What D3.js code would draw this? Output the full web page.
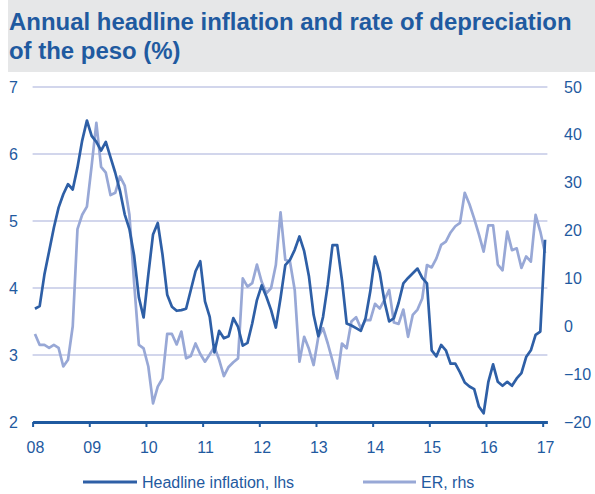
<!DOCTYPE html>
<html><head><meta charset="utf-8">
<script src="https://cdn.jsdelivr.net/npm/d3@7/dist/d3.min.js"></script>
<style>
body{margin:0;background:#fff}
svg{display:block;font-family:"Liberation Sans",Arial,Helvetica,sans-serif}
</style>
</head><body>
<svg id="chart" width="595" height="494"></svg>
<script>
// ---- data (monthly, Jan 2008 .. Jan 2017) ----
const yearLabels = ["08","09","10","11","12","13","14","15","16","17"];
const titleLines = ["Annual headline inflation and rate of depreciation", "of the peso (%)"];
const seriesNames = ["Headline inflation, lhs", "ER, rhs"];
const leftTicks = [2,3,4,5,6,7];
const rightTicks = [-20,-10,0,10,20,30,40,50];

const inflation = [
  3.69,3.73,4.20,4.55,4.90,5.20,5.40,5.55,5.47,5.80,6.20,6.50,
  6.27,6.18,6.05,6.18,5.95,5.72,5.45,5.10,4.88,4.48,3.86,3.56,
  4.20,4.80,4.97,4.50,3.90,3.72,3.66,3.67,3.69,3.97,4.25,4.40,
  3.80,3.57,3.04,3.36,3.25,3.28,3.55,3.42,3.14,3.18,3.47,3.82,
  4.04,3.87,3.67,3.41,3.85,4.34,4.42,4.57,4.77,4.55,4.18,3.60,
  3.28,3.57,4.05,4.64,4.64,4.12,3.47,3.44,3.40,3.36,3.55,3.95,
  4.47,4.23,3.80,3.50,3.55,3.78,4.07,4.15,4.22,4.29,4.15,4.07,
  3.07,2.98,3.15,3.07,2.87,2.87,2.74,2.59,2.53,2.49,2.23,2.13,
  2.60,2.86,2.60,2.54,2.60,2.54,2.65,2.73,2.97,3.07,3.30,3.35,
  4.72
];
const er = [
  -1.6,-3.9,-3.9,-4.5,-3.9,-4.5,-8.4,-7.0,0.0,20.3,23.3,25.0,
  33.5,42.5,33.3,32.1,27.4,27.9,31.3,29.4,23.3,9.0,-3.9,-4.6,
  -8.4,-16.1,-12.6,-10.9,-1.6,-1.6,-3.8,-1.1,-6.7,-6.2,-3.6,-5.8,
  -7.4,-5.9,-4.3,-7.0,-10.4,-8.5,-7.5,-6.7,10.0,8.3,9.0,12.9,
  9.3,6.9,8.0,12.8,23.8,13.9,13.5,7.6,-7.4,-2.2,-4.7,-8.1,
  -2.2,-0.4,-3.6,-7.2,-10.9,-3.6,-4.6,1.0,1.9,-0.4,1.3,1.3,
  4.7,3.7,5.5,7.6,0.8,0.5,3.5,-2.2,2.4,3.5,5.8,12.8,
  12.3,14.2,17.0,17.7,19.6,20.9,21.6,27.9,25.5,22.5,19.2,15.6,
  21.1,21.1,12.9,11.7,19.8,15.9,16.3,12.2,14.6,13.5,23.3,19.8,
  15.3
];

// ---- styles ----
const C_TEXT = "#1f5aa0", C_DARK = "#2e5fa6", C_LIGHT = "#98a8d6", C_GRID = "#c3c9e6";

const svg = d3.select("#chart");

// title band
svg.append("rect").attr("x",8).attr("y",0).attr("width",587).attr("height",72).attr("fill","#e6e7e8");
const t1 = svg.append("text").attr("x",9).attr("y",30).attr("fill",C_TEXT)
  .attr("font-weight","bold").attr("font-size",21).text(titleLines[0]);
const w = t1.node().getComputedTextLength();
const fs = 21 * 563 / w;
t1.attr("font-size", fs);
svg.append("text").attr("x",9).attr("y",59).attr("fill",C_TEXT)
  .attr("font-weight","bold").attr("font-size",fs).text(titleLines[1]);

// scales
const n = inflation.length;
const x = d3.scaleLinear().domain([-0.5, n - 0.5]).range([32.6, 547.4]);
const yL = d3.scaleLinear().domain([2,7]).range([422,87]);
const yR = d3.scaleLinear().domain([-20,50]).range([422,87]);

// gridlines
svg.append("g").selectAll("line").data(leftTicks.filter(d=>d>2)).join("line")
  .attr("x1",x.range()[0]).attr("x2",x.range()[1])
  .attr("y1",d=>yL(d)).attr("y2",d=>yL(d))
  .attr("stroke",C_GRID).attr("stroke-width",1.5);

// left axis labels
const gl = svg.append("g").attr("transform","translate(18,0)")
  .call(d3.axisLeft(yL).tickValues(leftTicks).tickSize(0).tickPadding(0).tickFormat(d3.format("d")));
gl.select(".domain").remove();
gl.selectAll("text").attr("fill",C_TEXT).attr("font-size",16).attr("font-family","Liberation Sans, Arial, sans-serif");

// right axis labels
const gr = svg.append("g").attr("transform","translate(564,0)")
  .call(d3.axisRight(yR).tickValues(rightTicks).tickSize(0).tickPadding(0).tickFormat(d3.format("d")));
gr.select(".domain").remove();
gr.selectAll("text").attr("fill",C_TEXT).attr("font-size",16).attr("font-family","Liberation Sans, Arial, sans-serif");

// lines
const months = d3.range(n);
const lineL = d3.line().x(i=>x(i)).y(i=>yL(inflation[i]));
const lineR = d3.line().x(i=>x(i)).y(i=>yR(er[i]));
svg.append("path").datum(months).attr("d",lineR).attr("fill","none")
  .attr("stroke",C_LIGHT).attr("stroke-width",2.7).attr("stroke-linejoin","round");
svg.append("path").datum(months).attr("d",lineL).attr("fill","none")
  .attr("stroke",C_DARK).attr("stroke-width",2.7).attr("stroke-linejoin","round");

// x axis: ticks between categories
const tickPos = yearLabels.map((d,k)=>k*12 - 0.5);
const gx = svg.append("g").attr("transform","translate(0,422)")
  .call(d3.axisBottom(x).tickValues(tickPos).tickSize(5).tickSizeOuter(0).tickFormat(""));
gx.select(".domain").attr("stroke",C_TEXT).attr("stroke-width",3);
gx.selectAll(".tick line").attr("stroke",C_TEXT).attr("stroke-width",2);

// x labels centred on January
const gxl = svg.append("g").attr("transform","translate(0,422)")
  .call(d3.axisBottom(x).tickValues(yearLabels.map((d,k)=>k*12)).tickSize(0).tickPadding(20)
    .tickFormat((d,k)=>yearLabels[k]));
gxl.select(".domain").remove();
gxl.selectAll("text").attr("fill",C_TEXT).attr("font-size",16).attr("font-family","Liberation Sans, Arial, sans-serif");

// legend
const legend = [
  {name:seriesNames[0], color:C_DARK, x1:83, x2:137, tx:142},
  {name:seriesNames[1], color:C_LIGHT, x1:363, x2:416, tx:421}
];
const lg = svg.append("g");
lg.selectAll("line").data(legend).join("line")
  .attr("x1",d=>d.x1).attr("x2",d=>d.x2).attr("y1",482).attr("y2",482)
  .attr("stroke",d=>d.color).attr("stroke-width",3);
lg.selectAll("text").data(legend).join("text")
  .attr("x",d=>d.tx).attr("y",488).attr("fill",C_TEXT).attr("font-size",16)
  .text(d=>d.name);
</script>
</body></html>
